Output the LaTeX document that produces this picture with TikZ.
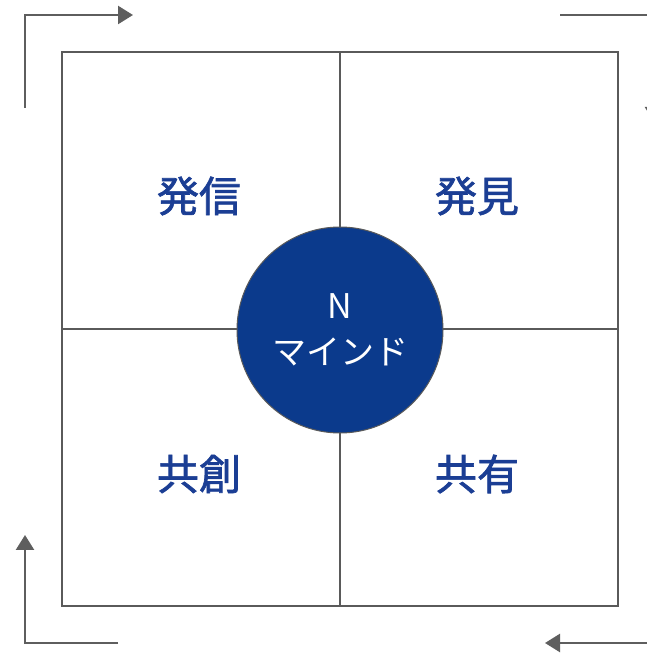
\documentclass[tikz,border=0pt]{standalone}
\usepackage{fontspec}
\setmainfont{Noto Sans CJK JP}
\newfontfamily\labelfont[FakeBold=1.6]{Noto Sans CJK JP}
\usetikzlibrary{arrows.meta}
\definecolor{navy}{HTML}{0B3A8C}
\definecolor{labelblue}{HTML}{1B3E94}
\definecolor{linegray}{HTML}{5A5A5A}
\definecolor{arrowgray}{HTML}{5E5E5E}
\tikzset{
  quad/.style={draw=linegray, line width=1.3pt, minimum width=278pt, minimum height=277pt, inner sep=0pt, outer sep=0pt},
  qlabel/.style={text=labelblue, font=\labelfont\fontsize{42}{48}\selectfont, inner sep=0pt},
  cyclearrow/.style={draw=arrowgray, line width=2.4pt, -{Triangle[length=15pt,width=18pt]}}
}
\begin{document}
\begin{tikzpicture}[x=1pt,y=1pt]
\useasboundingbox (0,0) rectangle (647,653);
\clip (0,0) rectangle (647,653);
\fill[white] (0,0) rectangle (647,653);
% quadrants
\node[quad, anchor=south east] (q1) at (340,324) {};
\node[quad, anchor=south west] (q2) at (340,324) {};
\node[quad, anchor=north east] (q3) at (340,324) {};
\node[quad, anchor=north west] (q4) at (340,324) {};
% labels
\node[qlabel] (t1) at (199,457) {発信};
\node[qlabel] (t2) at (477,457) {発見};
\node[qlabel] (t3) at (199,179) {共創};
\node[qlabel] (t4) at (477,179) {共有};
% center circle
\node[circle, fill=navy, draw=linegray, line width=1pt, minimum size=206pt, inner sep=0pt, text=white, align=center,
      font=\fontsize{34}{46}\selectfont] (c) at (340,323) {N\\マインド};
% cycle arrows
\coordinate (a1s) at (25,545); \coordinate (a1m) at (25,638); \coordinate (a1e) at (133,638);
\draw[cyclearrow] (a1s) -- (a1m) -- (a1e);
\coordinate (a2s) at (560,638); \coordinate (a2m) at (654,638); \coordinate (a2e) at (654,531);
\draw[cyclearrow] (a2s) -- (a2m) -- (a2e);
\coordinate (a3s) at (655,10); \coordinate (a3e) at (545,10);
\draw[cyclearrow] (a3s) -- (a3e);
\coordinate (a4s) at (118,10); \coordinate (a4m) at (25,10); \coordinate (a4e) at (25,118);
\draw[cyclearrow] (a4s) -- (a4m) -- (a4e);
\end{tikzpicture}
\end{document}
